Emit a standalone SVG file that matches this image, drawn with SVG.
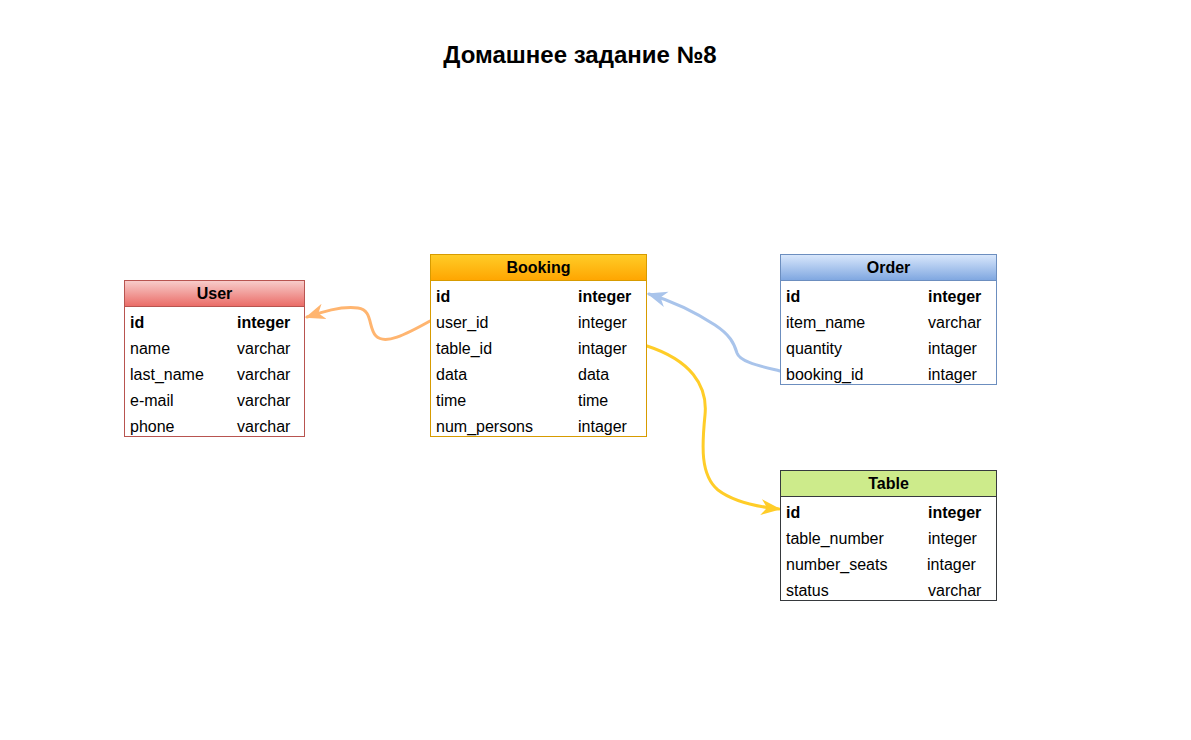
<svg xmlns="http://www.w3.org/2000/svg" width="1191" height="740" viewBox="0 0 1191 740">
<style>
text{font-family:"Liberation Sans",Arial,sans-serif;font-size:16px;fill:#000}
.b{font-weight:bold}
.h{font-weight:bold;text-anchor:middle}
.title{font-weight:bold;font-size:24px;text-anchor:middle}
.body{fill:#fff}
.conn{fill:none;stroke-width:3;stroke-linecap:round}
</style>
<defs>
<linearGradient id="gRed" x1="0" y1="0" x2="0" y2="1"><stop offset="0" stop-color="#f8cecc"/><stop offset="1" stop-color="#ea6b66"/></linearGradient>
<linearGradient id="gOrange" x1="0" y1="0" x2="0" y2="1"><stop offset="0" stop-color="#ffcd28"/><stop offset="1" stop-color="#ffa500"/></linearGradient>
<linearGradient id="gBlue" x1="0" y1="0" x2="0" y2="1"><stop offset="0" stop-color="#dae8fc"/><stop offset="1" stop-color="#7ea6e0"/></linearGradient>
<marker id="aO" viewBox="0 0 10 10" refX="9" refY="5" markerWidth="20" markerHeight="20" markerUnits="userSpaceOnUse" orient="auto"><path d="M0,1 L10,5 L0,9 L3,5 Z" fill="#FFB570"/></marker>
<marker id="aB" viewBox="0 0 10 10" refX="9" refY="5" markerWidth="20" markerHeight="20" markerUnits="userSpaceOnUse" orient="auto"><path d="M0,1 L10,5 L0,9 L3,5 Z" fill="#A9C4EB"/></marker>
<marker id="aY" viewBox="0 0 10 10" refX="9" refY="5" markerWidth="20" markerHeight="20" markerUnits="userSpaceOnUse" orient="auto"><path d="M0,1 L10,5 L0,9 L3,5 Z" fill="#FFCD28"/></marker>
</defs>
<rect width="1191" height="740" fill="#fff"/>
<text class="title" x="580" y="63">Домашнее задание №8</text>

<g id="connectors">
<path class="conn" stroke="#FFB570" marker-end="url(#aO)" d="M430,321 C405,335 385,345 376,336 C368,328 373,310 358,308 C340,306 322,312 307,317"/>
<path class="conn" stroke="#A9C4EB" marker-end="url(#aB)" d="M780,371 C760,366 740,362 737,353 C734,343 730,335 715,325 C695,312 675,302 649,294"/>
<path class="conn" stroke="#FFCD28" marker-end="url(#aY)" d="M647,346 C690,360 708,385 705,415 C702,445 700,475 718,490 C735,503 760,507 779,509"/>
</g>

<g id="user">
<rect x="124.5" y="280.5" width="180" height="26" fill="url(#gRed)" stroke="#b85450"/>
<rect class="body" x="124.5" y="306.5" width="180" height="130" stroke="#b85450"/>
<text class="h" x="214.5" y="299">User</text>
<text class="b" x="130" y="328">id</text><text class="b" x="237" y="328">integer</text>
<text x="130" y="354">name</text><text x="237" y="354">varchar</text>
<text x="130" y="380">last_name</text><text x="237" y="380">varchar</text>
<text x="130" y="406">e-mail</text><text x="237" y="406">varchar</text>
<text x="130" y="432">phone</text><text x="237" y="432">varchar</text>
</g>

<g id="booking">
<rect x="430.5" y="254.5" width="216" height="26" fill="url(#gOrange)" stroke="#d79b00"/>
<rect class="body" x="430.5" y="280.5" width="216" height="156" stroke="#d79b00"/>
<text class="h" x="538.5" y="273">Booking</text>
<text class="b" x="436" y="302">id</text><text class="b" x="578" y="302">integer</text>
<text x="436" y="328">user_id</text><text x="578" y="328">integer</text>
<text x="436" y="354">table_id</text><text x="578" y="354">intager</text>
<text x="436" y="380">data</text><text x="578" y="380">data</text>
<text x="436" y="406">time</text><text x="578" y="406">time</text>
<text x="436" y="432">num_persons</text><text x="578" y="432">intager</text>
</g>

<g id="order">
<rect x="780.5" y="254.5" width="216" height="26" fill="url(#gBlue)" stroke="#6c8ebf"/>
<rect class="body" x="780.5" y="280.5" width="216" height="104" stroke="#6c8ebf"/>
<text class="h" x="888.5" y="273">Order</text>
<text class="b" x="786" y="302">id</text><text class="b" x="928" y="302">integer</text>
<text x="786" y="328">item_name</text><text x="928" y="328">varchar</text>
<text x="786" y="354">quantity</text><text x="928" y="354">intager</text>
<text x="786" y="380">booking_id</text><text x="928" y="380">intager</text>
</g>

<g id="table">
<rect x="780.5" y="470.5" width="216" height="26" fill="#cdeb8b" stroke="#36393d"/>
<rect class="body" x="780.5" y="496.5" width="216" height="104" stroke="#36393d"/>
<text class="h" x="888.5" y="489">Table</text>
<text class="b" x="786" y="518">id</text><text class="b" x="928" y="518">integer</text>
<text x="786" y="544">table_number</text><text x="928" y="544">integer</text>
<text x="786" y="570">number_seats</text><text x="927" y="570">intager</text>
<text x="786" y="596">status</text><text x="928" y="596">varchar</text>
</g>
</svg>
